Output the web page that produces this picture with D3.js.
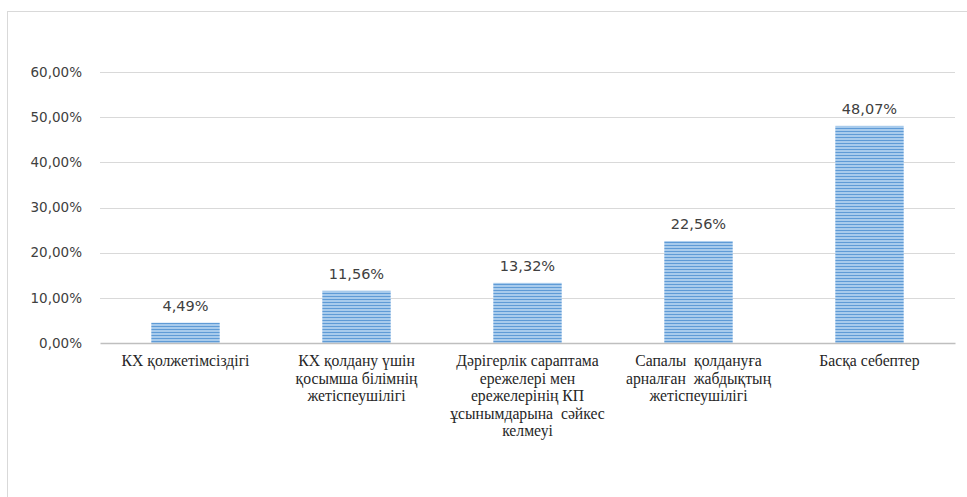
<!DOCTYPE html>
<html>
<head>
<meta charset="utf-8">
<script src="https://cdn.jsdelivr.net/npm/d3@7"></script>
<style>
  body { margin: 0; background: #fff; }
  svg { display: block; }
</style>
</head>
<body>
<div class="chart"></div>
<script>
// chart data
var categories = [
  "КХ қолжетімсіздігі",
  "КХ қолдану үшін қосымша білімнің жетіспеушілігі",
  "Дәрігерлік сараптама ережелері мен ережелерінің КП ұсынымдарына сәйкес келмеуі",
  "Сапалы қолдануға арналған жабдықтың жетіспеушілігі",
  "Басқа себептер"
];
var labelLines = [
  ["КХ қолжетімсіздігі"],
  ["КХ қолдану үшін", "қосымша білімнің", "жетіспеушілігі"],
  ["Дәрігерлік сараптама", "ережелері мен", "ережелерінің КП", "ұсынымдарына  сәйкес", "келмеуі"],
  ["Сапалы  қолдануға", "арналған  жабдықтың", "жетіспеушілігі"],
  ["Басқа себептер"]
];
var values = [4.49, 11.56, 13.32, 22.56, 48.07];
var yTicks = [0, 10, 20, 30, 40, 50, 60];

var svgWidth = 967;
var svgHeight = 497;

var margin = { top: 72, right: 12, bottom: 154, left: 100 };
var width = 855;
var height = svgHeight - margin.top - margin.bottom;

var svg = d3.select(".chart")
  .append("svg")
  .attr("width", svgWidth)
  .attr("height", svgHeight);

// striped fill for the bars
var defs = svg.append("defs");
var pattern = defs.append("pattern")
  .attr("id", "stripes")
  .attr("patternUnits", "userSpaceOnUse")
  .attr("width", 8)
  .attr("height", 3);
pattern.append("rect")
  .attr("width", 8).attr("height", 3)
  .attr("fill", "#a8cbec");
pattern.append("rect")
  .attr("y", 2)
  .attr("width", 8).attr("height", 1)
  .attr("fill", "#5f9bd6");

// chart frame (only top and left edges show in the picture)
svg.append("rect")
  .attr("x", 7.5)
  .attr("y", 11.5)
  .attr("width", svgWidth)
  .attr("height", svgHeight)
  .attr("fill", "none")
  .attr("stroke", "#d9d9d9");

var chartGroup = svg.append("g")
  .attr("transform", `translate(${margin.left}, ${margin.top})`);

var xScale = d3.scaleBand()
  .domain(categories)
  .range([0, width])
  .paddingInner(0.6)
  .paddingOuter(0.3);

var yScale = d3.scaleLinear()
  .domain([0, 60])
  .range([height, 0]);

// gridlines
chartGroup.append("g")
  .selectAll("line")
  .data(yTicks.filter(d => d > 0))
  .enter()
  .append("line")
  .attr("x1", 0)
  .attr("x2", width)
  .attr("y1", d => Math.round(yScale(d)) + 0.5)
  .attr("y2", d => Math.round(yScale(d)) + 0.5)
  .attr("stroke", "#d9d9d9")
  .attr("stroke-width", 1);

// y axis labels
var yAxis = d3.axisLeft(yScale)
  .tickValues(yTicks)
  .tickSize(0)
  .tickPadding(18)
  .tickFormat(d => d3.format(".2f")(d).replace(".", ",") + "%");

var yAxisG = chartGroup.append("g").call(yAxis);
yAxisG.select(".domain").remove();
yAxisG.selectAll("text")
  .attr("font-family", "DejaVu Sans, sans-serif")
  .attr("font-size", "13.5px")
  .attr("fill", "#404040");

// bars
chartGroup.selectAll(".bar")
  .data(values)
  .enter()
  .append("rect")
  .attr("class", "bar")
  .attr("x", (d, i) => xScale(categories[i]))
  .attr("y", d => yScale(d))
  .attr("width", xScale.bandwidth())
  .attr("height", d => height - yScale(d))
  .attr("fill", "url(#stripes)");

// value labels
chartGroup.selectAll(".valueText")
  .data(values)
  .enter()
  .append("text")
  .attr("class", "valueText")
  .attr("x", (d, i) => xScale(categories[i]) + xScale.bandwidth() / 2)
  .attr("y", d => yScale(d) - 12)
  .attr("text-anchor", "middle")
  .attr("font-family", "DejaVu Sans, sans-serif")
  .attr("font-size", "14.5px")
  .attr("fill", "#404040")
  .text(d => d3.format(".2f")(d).replace(".", ",") + "%");

// x axis line
var xAxis = d3.axisBottom(xScale).tickSize(0).tickFormat("");
var xAxisG = chartGroup.append("g")
  .attr("transform", `translate(0, ${height})`)
  .call(xAxis);
xAxisG.select(".domain")
  .attr("stroke", "#bfbfbf")
  .attr("stroke-width", 1.5);

// category labels (wrapped)
var catText = chartGroup.selectAll(".catText")
  .data(categories)
  .enter()
  .append("text")
  .attr("class", "catText")
  .attr("x", d => xScale(d) + xScale.bandwidth() / 2)
  .attr("y", height + 23)
  .attr("text-anchor", "middle")
  .attr("font-family", "Liberation Serif")
  .attr("font-size", "15.7px")
  .attr("fill", "#262626")
  .attr("xml:space", "preserve");

catText.each(function(d, i) {
  var t = d3.select(this);
  labelLines[i].forEach(function(line, j) {
    t.append("tspan")
      .attr("x", xScale(d) + xScale.bandwidth() / 2)
      .attr("dy", j === 0 ? 0 : 17.5)
      .text(line);
  });
});
</script>
</body>
</html>
